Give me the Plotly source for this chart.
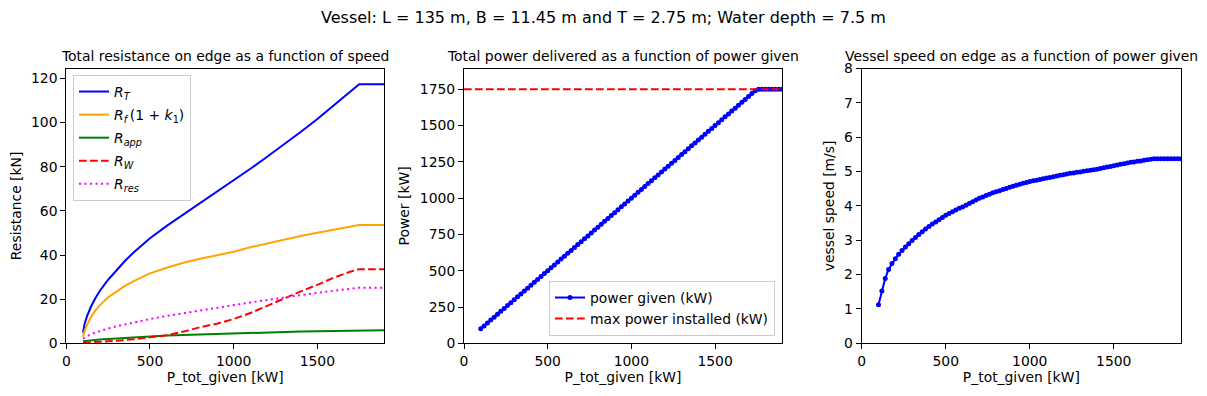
import plotly.graph_objects as go

# ---------------- data ----------------
P_res = [100, 110, 125, 150, 175, 200, 250, 300, 350, 400, 500, 600, 700, 800, 900,
         1000, 1100, 1200, 1300, 1400, 1500, 1600, 1700, 1750, 1800, 1900]
R_T = [4.8, 9.0, 12.5, 17.0, 20.6, 23.7, 28.8, 33.3, 37.3, 41.0, 47.6, 53.2, 58.3, 63.5, 68.6,
       73.8, 79.1, 84.5, 90.0, 95.7, 101.6, 107.8, 114.2, 117.4, 117.4, 117.4]
R_f = [3.0, 5.8, 8.6, 12.2, 15.0, 17.2, 20.8, 23.6, 26.0, 28.1, 31.7, 34.2, 36.5, 38.3, 39.9,
       41.5, 43.5, 45.3, 47.0, 48.6, 50.1, 51.5, 52.9, 53.6, 53.6, 53.6]
R_app = [0.9, 1.0, 1.15, 1.35, 1.55, 1.7, 2.0, 2.25, 2.5, 2.75, 3.15, 3.5, 3.8, 4.05, 4.3,
         4.5, 4.7, 4.9, 5.1, 5.3, 5.45, 5.6, 5.8, 5.9, 5.9, 5.9]
R_W = [0.3, 0.32, 0.36, 0.45, 0.55, 0.65, 0.9, 1.15, 1.45, 1.8, 2.7, 3.6, 5.3, 7.3, 8.9,
       11.0, 13.7, 17.0, 20.3, 23.5, 26.5, 29.8, 32.5, 33.6, 33.6, 33.6]
R_res = [2.1, 2.6, 3.2, 4.2, 4.9, 5.6, 6.7, 7.7, 8.6, 9.4, 11.0, 12.4, 13.7, 15.0, 16.2,
         17.3, 18.5, 19.7, 20.8, 21.8, 22.9, 23.9, 24.8, 25.2, 25.2, 25.2]

P_given = [100, 120, 140, 160, 180, 200, 220, 240, 260, 280,
           300, 320, 340, 360, 380, 400, 420, 440, 460, 480,
           500, 520, 540, 560, 580, 600, 620, 640, 660, 680,
           700, 720, 740, 760, 780, 800, 820, 840, 860, 880,
           900, 920, 940, 960, 980, 1000, 1020, 1040, 1060, 1080,
           1100, 1120, 1140, 1160, 1180, 1200, 1220, 1240, 1260, 1280,
           1300, 1320, 1340, 1360, 1380, 1400, 1420, 1440, 1460, 1480,
           1500, 1520, 1540, 1560, 1580, 1600, 1620, 1640, 1660, 1680,
           1700, 1720, 1740, 1760, 1780, 1800, 1820, 1840, 1860, 1880,
           1900]
P_delivered = [100, 120, 140, 160, 180, 200, 220, 240, 260, 280,
               300, 320, 340, 360, 380, 400, 420, 440, 460, 480,
               500, 520, 540, 560, 580, 600, 620, 640, 660, 680,
               700, 720, 740, 760, 780, 800, 820, 840, 860, 880,
               900, 920, 940, 960, 980, 1000, 1020, 1040, 1060, 1080,
               1100, 1120, 1140, 1160, 1180, 1200, 1220, 1240, 1260, 1280,
               1300, 1320, 1340, 1360, 1380, 1400, 1420, 1440, 1460, 1480,
               1500, 1520, 1540, 1560, 1580, 1600, 1620, 1640, 1660, 1680,
               1700, 1720, 1740, 1750, 1750, 1750, 1750, 1750, 1750, 1750,
               1750]
speed = [1.12, 1.52, 1.89, 2.15, 2.32, 2.46, 2.59, 2.70, 2.80, 2.90,
         2.99, 3.08, 3.17, 3.25, 3.33, 3.40, 3.47, 3.53, 3.60, 3.66,
         3.73, 3.78, 3.83, 3.88, 3.93, 3.97, 4.02, 4.07, 4.12, 4.17,
         4.22, 4.26, 4.30, 4.34, 4.38, 4.41, 4.44, 4.48, 4.51, 4.54,
         4.57, 4.60, 4.63, 4.66, 4.68, 4.71, 4.73, 4.75, 4.77, 4.79,
         4.81, 4.83, 4.85, 4.87, 4.89, 4.91, 4.93, 4.95, 4.96, 4.98,
         4.99, 5.01, 5.02, 5.04, 5.05, 5.07, 5.09, 5.11, 5.13, 5.15,
         5.17, 5.19, 5.21, 5.23, 5.25, 5.27, 5.28, 5.30, 5.31, 5.33,
         5.34, 5.36, 5.37, 5.37, 5.37, 5.37, 5.37, 5.37, 5.37, 5.37,
         5.37]
P_max_installed = 1750
X_RANGE = [0, 1900]

suptitle = "Vessel: L = 135 m, B = 11.45 m and T = 2.75 m; Water depth = 7.5 m"
titles = ["Total resistance on edge as a function of speed",
          "Total power delivered as a function of power given",
          "Vessel speed on edge as a function of power given"]
xlabel = "P_tot_given [kW]"
ylabels = ["Resistance [kN]", "Power [kW]", "vessel speed [m/s]"]

# ---------------- figure ----------------
W, H = 1207, 396
FONT = "DejaVu Sans"
FS = 13.9
BLUE, ORANGE, GREEN, RED, MAG = "#0000ff", "#ffa500", "#008000", "#ff0000", "#ff00ff"
DASH = "7.7px,3.3px"
DOT = "2.1px,3.4px"

fig = go.Figure()

res_series = [
    (R_T, "<i>R</i><sub><i>T</i></sub>", BLUE, "solid"),
    (R_f, "<i>R</i><sub><i>f</i></sub>\u2009(1 + <i>k</i><sub>1</sub>)", ORANGE, "solid"),
    (R_app, "<i>R</i><sub><i>app</i></sub>", GREEN, "solid"),
    (R_W, "<i>R</i><sub><i>W</i></sub>", RED, DASH),
    (R_res, "<i>R</i><sub><i>res</i></sub>", MAG, DOT),
]
for i, (vals, name, col, dash) in enumerate(res_series):
    fig.add_trace(go.Scatter(x=P_res, y=vals, mode="lines", name=name,
                             line=dict(color=col, width=2, dash=dash),
                             xaxis="x", yaxis="y", legend="legend",
                             legendgroup=f"g{i}"))

fig.add_trace(go.Scatter(x=P_given, y=P_delivered, mode="lines+markers",
                         name="power given (kW)",
                         line=dict(color=BLUE, width=2),
                         marker=dict(color=BLUE, size=5),
                         xaxis="x2", yaxis="y2", legend="legend2", legendgroup="h1"))
fig.add_trace(go.Scatter(x=X_RANGE, y=[P_max_installed, P_max_installed], mode="lines",
                         name="max power installed (kW)",
                         line=dict(color=RED, width=2, dash=DASH),
                         xaxis="x2", yaxis="y2", legend="legend2", legendgroup="h2"))

fig.add_trace(go.Scatter(x=P_given, y=speed, mode="lines+markers", showlegend=False,
                         line=dict(color=BLUE, width=2),
                         marker=dict(color=BLUE, size=5),
                         xaxis="x3", yaxis="y3"))

xdoms = [[66.3 / W, 384.3 / W], [464.0 / W, 782.0 / W], [861.7 / W, 1181.0 / W]]
ydom = [(H - 343.3) / H, (H - 68.5) / H]
yranges = [[0, 124.5], [0, 1893], [0, 8]]
ytick_sets = [list(range(0, 121, 20)), list(range(0, 1751, 250)), list(range(0, 9))]

axis_common = dict(showline=True, linecolor="black", linewidth=1, mirror=True,
                   ticks="outside", ticklen=5, tickwidth=1, tickcolor="black",
                   showgrid=False, zeroline=False, automargin=False,
                   tickfont=dict(family=FONT, size=FS, color="black"))

layout = dict(width=W, height=H, margin=dict(l=0, r=0, t=0, b=0, autoexpand=False),
              paper_bgcolor="white", plot_bgcolor="white",
              font=dict(family=FONT, size=FS, color="black"))
for k in range(3):
    sfx = "" if k == 0 else str(k + 1)
    layout["xaxis" + sfx] = dict(domain=xdoms[k], range=X_RANGE, anchor="y" + sfx,
                                 tickvals=[0, 500, 1000, 1500],
                                 title=dict(text=xlabel, font=dict(family=FONT, size=FS), standoff=4),
                                 **axis_common)
    layout["yaxis" + sfx] = dict(domain=ydom, range=yranges[k], anchor="x" + sfx,
                                 tickvals=ytick_sets[k],
                                 title=dict(text=ylabels[k], font=dict(family=FONT, size=FS), standoff=6),
                                 **axis_common)

layout["legend"] = dict(x=73 / W, y=(H - 75) / H, xanchor="left", yanchor="top",
                        bgcolor="rgba(255,255,255,0.8)", bordercolor="#cccccc", borderwidth=1,
                        font=dict(family=FONT, size=FS), tracegroupgap=2,
                        itemwidth=30)
layout["legend2"] = dict(x=775 / W, y=(H - 336) / H, xanchor="right", yanchor="bottom",
                         bgcolor="rgba(255,255,255,0.8)", bordercolor="#cccccc", borderwidth=1,
                         font=dict(family=FONT, size=FS), tracegroupgap=0,
                         itemwidth=30)

annotations = [dict(text=suptitle, x=0.5, y=(H - 18) / H, xref="paper", yref="paper",
                    xanchor="center", yanchor="middle", showarrow=False,
                    font=dict(family=FONT, size=16, color="black"))]
for k in range(3):
    annotations.append(dict(text=titles[k], x=(xdoms[k][0] + xdoms[k][1]) / 2,
                            y=ydom[1], xref="paper", yref="paper",
                            xanchor="center", yanchor="bottom", yshift=3, showarrow=False,
                            font=dict(family=FONT, size=FS, color="black")))
layout["annotations"] = annotations

fig.update_layout(**layout)
fig.write_html("out.html", config={"displayModeBar": False},
               post_script="document.body.style.margin='0px';document.body.style.overflow='hidden';")
